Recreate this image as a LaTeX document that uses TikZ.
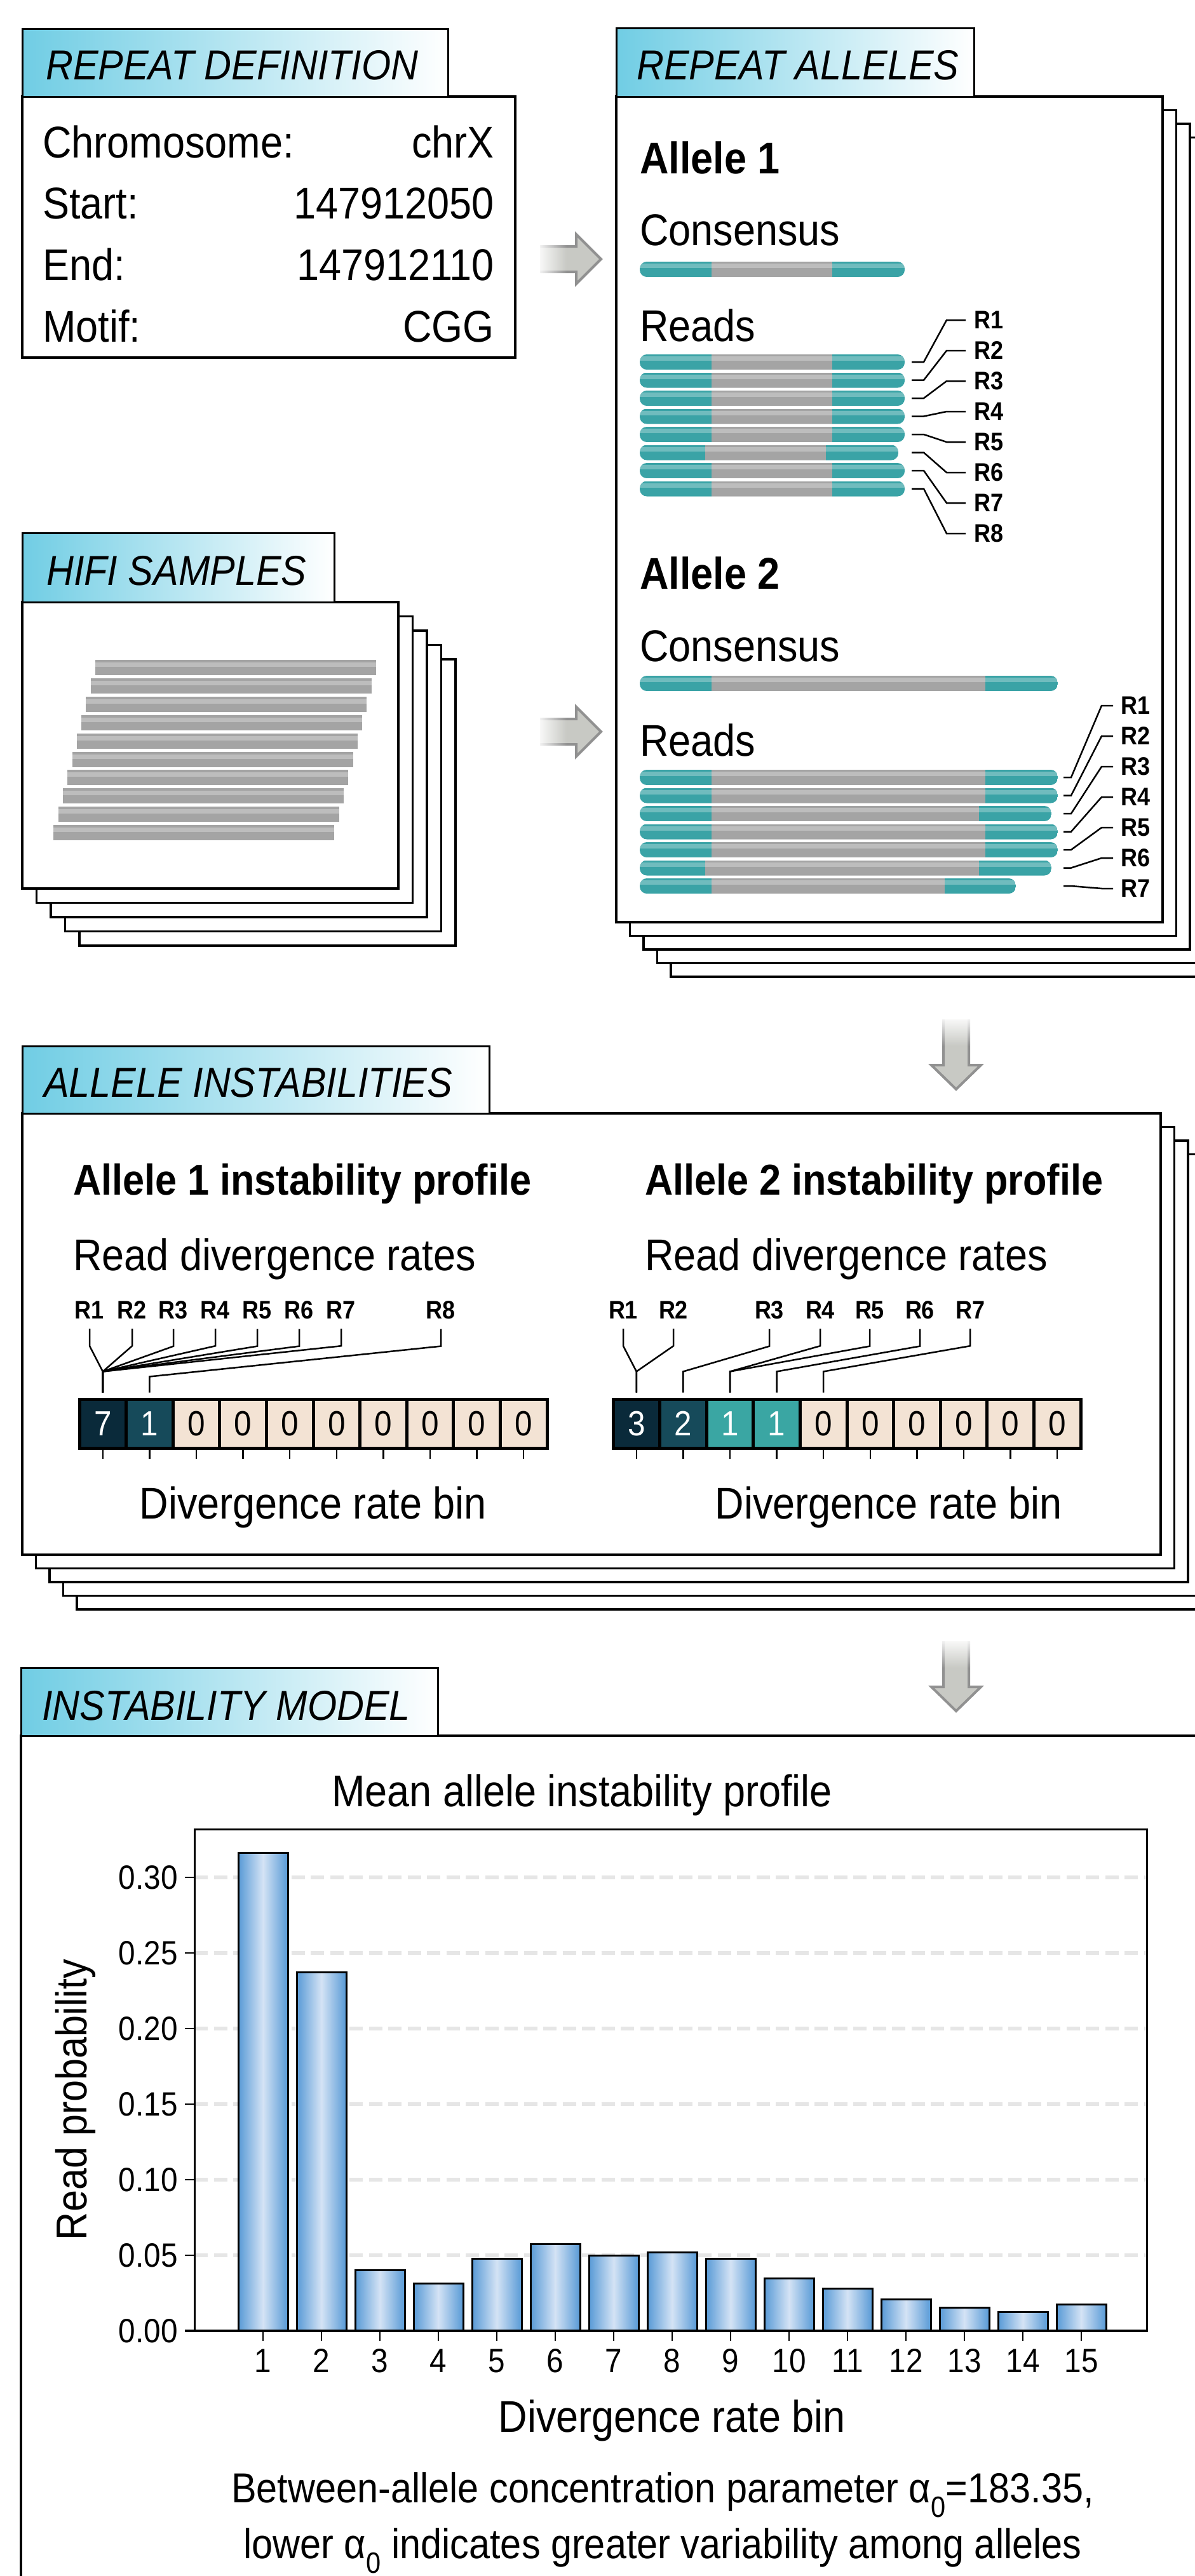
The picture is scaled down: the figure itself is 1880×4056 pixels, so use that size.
\documentclass[tikz,border=0pt]{standalone}
\usepackage{fontspec}
\setmainfont{Liberation Sans}[FakeStretch=0.9]
\usetikzlibrary{calc,fadings}

\definecolor{tabblue}{RGB}{112,205,228}
\definecolor{tabmid}{RGB}{160,223,238}
\definecolor{readteal}{RGB}{58,163,166}
\definecolor{readgrey}{RGB}{164,164,164}
\definecolor{arrowfill}{RGB}{200,201,196}
\definecolor{arrowline}{RGB}{145,145,145}
\definecolor{cellnavy}{RGB}{10,42,58}
\definecolor{celldark}{RGB}{22,74,90}
\definecolor{cellteal}{RGB}{58,166,163}
\definecolor{cellbeige}{RGB}{243,227,212}
\definecolor{barblue}{RGB}{88,154,214}
\definecolor{barlight}{RGB}{212,227,245}
\definecolor{gridgrey}{RGB}{230,230,230}

\tikzfading[name=fadeleft, left color=transparent!0, right color=transparent!100]
\tikzfading[name=fadetop, top color=transparent!0, bottom color=transparent!100]

\newcommand\fsz[1]{\fontsize{#1}{#1}\selectfont}

% one read: centre y, start x, repeat start, repeat end, end x
\newcommand\myreadbar[5]{%
  \begin{scope}
    \clip[rounded corners=11pt] (#2,#1-12) rectangle (#5,#1+12);
    \fill[readteal] (#2,#1-12) rectangle (#3,#1+12);
    \fill[readgrey] (#3,#1-12) rectangle (#4,#1+12);
    \fill[readteal] (#4,#1-12) rectangle (#5,#1+12);
    \fill[white,opacity=0.28] (#2,#1-9) rectangle (#5,#1-2);
  \end{scope}}

% one unaligned HiFi read: top y, left x
\newcommand\myhifibar[2]{%
  \fill[readgrey] (#2,#1) rectangle (#2+442,#1+24);
  \fill[white,opacity=0.28] (#2,#1+4) rectangle (#2+442,#1+11);}

% block arrow pointing right, centre y
\newcommand\myrightarrow[1]{%
  \draw[blockarrow] (850,#1-20) -- (907,#1-20) -- (907,#1-39) -- (946,#1)
     -- (907,#1+39) -- (907,#1+20) -- (850,#1+20);
  \fill[white,path fading=fadeleft] (844,#1-26) rectangle (892,#1+26);}

% block arrow pointing down, shaft top y
\newcommand\mydownarrow[1]{%
  \draw[blockarrow] (1485,#1) -- (1485,#1+72) -- (1466,#1+72) -- (1505,#1+110)
     -- (1544,#1+72) -- (1525,#1+72) -- (1525,#1);
  \fill[white,path fading=fadetop] (1479,#1-6) rectangle (1531,#1+42);}

\begin{document}
\begin{tikzpicture}[x=1pt,y=-1pt,
  sheet/.style={draw=black,fill=white,line width=3.5pt},
  tabbox/.style={draw=black,line width=3pt,left color=tabblue,middle color=tabmid,right color=white},
  tabtitle/.style={anchor=base west,inner sep=0pt,font=\fsz{66}\itshape},
  bodyl/.style={anchor=base west,inner sep=0pt,font=\fsz{70}},
  bodyr/.style={anchor=base east,inner sep=0pt,font=\fsz{70}},
  bodyc/.style={anchor=base,inner sep=0pt,font=\fsz{70}},
  heading/.style={anchor=base west,inner sep=0pt,font=\fsz{70}\bfseries},
  rlab/.style={anchor=west,inner sep=0pt,font=\fsz{40}\bfseries},
  plab/.style={anchor=base,inner sep=0pt,font=\fsz{40}\bfseries},
  leader/.style={draw=black,line width=2.5pt},
  blockarrow/.style={draw=arrowline,fill=arrowfill,line width=4pt,line join=miter},
  binbox/.style={draw=black,line width=5pt,minimum width=73.6pt,minimum height=77pt,inner sep=0pt,font=\fsz{55}},
  axtick/.style={draw=black,line width=2.5pt},
  gridline/.style={draw=gridgrey,line width=6pt,dash pattern=on 21pt off 9.5pt},
  ticklab/.style={inner sep=0pt,font=\fsz{53}}
]
\useasboundingbox (0,0) rectangle (1880,4056);
\fill[white] (0,0) rectangle (1880,4056);

%% ---------------- Repeat definition ----------------
\draw[sheet] (35,152) rectangle (811,563);
\path[tabbox] (35,45) rectangle (705,152);
\node[tabtitle] (tdef) at (72,125) {REPEAT DEFINITION};
\node[bodyl] (kchr) at (67,248) {Chromosome:};
\node[bodyr] (vchr) at (778,248) {chrX};
\node[bodyl] (kstart) at (67,344) {Start:};
\node[bodyr] (vstart) at (778,344) {147912050};
\node[bodyl] (kend) at (67,441) {End:};
\node[bodyr] (vend) at (778,441) {147912110};
\node[bodyl] (kmotif) at (67,538) {Motif:};
\node[bodyr] (vmotif) at (778,538) {CGG};

\myrightarrow{408}

%% ---------------- HiFi samples ----------------
\foreach \k in {4,3,2,1} {
  \draw[sheet] (35+22.5*\k,948+22.5*\k) rectangle (627+22.5*\k,1399+22.5*\k);
}
\draw[sheet] (35,948) rectangle (627,1399);
\path[tabbox] (35,839) rectangle (526,948);
\node[tabtitle] (thifi) at (73,921) {HIFI SAMPLES};
\foreach \i in {0,...,9} {
  \myhifibar{1039+28.9*\i}{150-7.3*\i}
}

\myrightarrow{1152}

%% ---------------- Repeat alleles ----------------
\foreach \k in {4,3,2,1} {
  \draw[sheet] (970+21.5*\k,152+21.5*\k) rectangle (1830+21.5*\k,1452+21.5*\k);
}
\draw[sheet] (970,152) rectangle (1830,1452);
\path[tabbox] (970,44) rectangle (1533,152);
\node[tabtitle] (talleles) at (1002,125) {REPEAT ALLELES};

% allele 1
\node[heading] (a1head) at (1007,273) {Allele 1};
\node[bodyl] (a1cons) at (1007,386) {Consensus};
\myreadbar{424}{1007}{1120}{1310}{1424}
\node[bodyl] (a1reads) at (1007,537) {Reads};
\foreach \i in {1,...,8} {
  \pgfmathsetmacro\ry{570+28.5*(\i-1)}
  \ifnum\i=6
    \myreadbar{\ry}{1007}{1110}{1300}{1414}
  \else
    \myreadbar{\ry}{1007}{1120}{1310}{1424}
  \fi
  \pgfmathsetmacro\ly{504+48*(\i-1)}
  \coordinate (a1e\i) at (1435,\ry);
  \node[rlab] (a1r\i) at (1533,\ly) {R\i};
  \draw[leader] (a1e\i) -- ++(19,0) -- ($(a1r\i.west)+(-43,0)$) -- ($(a1r\i.west)+(-13,0)$);
}

% allele 2
\node[heading] (a2head) at (1007,927) {Allele 2};
\node[bodyl] (a2cons) at (1007,1041) {Consensus};
\myreadbar{1076}{1007}{1120}{1551}{1665}
\node[bodyl] (a2reads) at (1007,1190) {Reads};
\foreach \gs/\ge/\xe [count=\i] in {1120/1551/1665,1120/1551/1665,1120/1541/1655,
    1120/1551/1665,1120/1551/1665,1110/1541/1655,1120/1487/1599} {
  \pgfmathsetmacro\ry{1224+28.5*(\i-1)}
  \myreadbar{\ry}{1007}{\gs}{\ge}{\xe}
  \pgfmathsetmacro\ly{1111+48*(\i-1)}
  \coordinate (a2e\i) at (1674,\ry);
  \node[rlab] (a2r\i) at (1764,\ly) {R\i};
  \draw[leader] (a2e\i) -- ++(12,0) -- ($(a2r\i.west)+(-30,0)$) -- ($(a2r\i.west)+(-12,0)$);
}

\mydownarrow{1605}

%% ---------------- Allele instabilities ----------------
\foreach \k in {4,3,2,1} {
  \draw[sheet] (35+21.5*\k,1753+21.5*\k) rectangle (1827+21.5*\k,2448+21.5*\k);
}
\draw[sheet] (35,1753) rectangle (1827,2448);
\path[tabbox] (35,1647) rectangle (770,1753);
\node[tabtitle] (tinst) at (69,1727) {ALLELE INSTABILITIES};

% profile of allele 1
\node[heading,font=\fsz{68}\bfseries] (p1head) at (115,1881) {Allele 1 instability profile};
\node[bodyl] (p1sub) at (115,2000) {Read divergence rates};
\foreach \t/\fc/\tc [count=\i] in {7/cellnavy/white,1/celldark/white,0/cellbeige/black,
    0/cellbeige/black,0/cellbeige/black,0/cellbeige/black,0/cellbeige/black,
    0/cellbeige/black,0/cellbeige/black,0/cellbeige/black} {
  \draw[axtick] ({125+73.6*(\i-0.5)},2282) -- ++(0,15);
  \node[binbox,fill=\fc,text=\tc] (p1c\i) at ({125+73.6*(\i-0.5)},2241.5) {\t};
}
\foreach \x/\c [count=\i] in {141/1,208/1,273/1,339/1,405/1,471/1,537/1} {
  \node[plab] (p1r\i) at (\x,2076) {R\i};
  \draw[leader] ($(p1r\i.south)+(0,16)$) -- ++(0,27) -- ($(p1c\c.north)+(0,-41)$) -- ($(p1c\c.north)+(0,-8)$);
}
\node[plab] (p1r8) at (694,2076) {R8};
\draw[leader] ($(p1r8.south)+(0,16)$) -- ++(0,27) -- ($(p1c2.north)+(0,-33)$) -- ($(p1c2.north)+(0,-8)$);
\node[bodyc] (p1axis) at (493,2391) {Divergence rate bin};

% profile of allele 2
\node[heading,font=\fsz{68}\bfseries] (p2head) at (1015,1881) {Allele 2 instability profile};
\node[bodyl] (p2sub) at (1015,2000) {Read divergence rates};
\foreach \t/\fc/\tc [count=\i] in {3/cellnavy/white,2/celldark/white,1/cellteal/white,
    1/cellteal/white,0/cellbeige/black,0/cellbeige/black,0/cellbeige/black,
    0/cellbeige/black,0/cellbeige/black,0/cellbeige/black} {
  \draw[axtick] ({965+73.6*(\i-0.5)},2282) -- ++(0,15);
  \node[binbox,fill=\fc,text=\tc] (p2c\i) at ({965+73.6*(\i-0.5)},2241.5) {\t};
}
\foreach \x/\c [count=\i] in {981/1,1060/1,1211/2,1291/3,1369/3,1448/4,1527/5} {
  \node[plab] (p2r\i) at (\x,2076) {R\i};
  \draw[leader] ($(p2r\i.south)+(0,16)$) -- ++(0,27) -- ($(p2c\c.north)+(0,-41)$) -- ($(p2c\c.north)+(0,-8)$);
}
\node[bodyc] (p2axis) at (1399,2391) {Divergence rate bin};

\mydownarrow{2584}

%% ---------------- Instability model ----------------
\draw[sheet] (33,2733) rectangle (1910,4090);
\path[tabbox] (33,2626) rectangle (689,2733);
\node[tabtitle] (tmodel) at (66,2708) {INSTABILITY MODEL};

\node[bodyc] (ctitle) at (916,2844) {Mean allele instability profile};

% grid and frame
\foreach \k in {1,...,6} {
  \draw[gridline] (306,{3670-119*\k}) -- (1805,{3670-119*\k});
}
\draw[line width=3pt] (306,3670) -- (306,2880) -- (1805,2880) -- (1805,3670);
\foreach \lab [count=\k from 0] in {0.00,0.05,0.10,0.15,0.20,0.25,0.30} {
  \draw[axtick] (291,{3670-119*\k}) -- (306,{3670-119*\k});
  \node[ticklab,anchor=east] (yt\k) at (280,{3670-119*\k}) {\lab};
}

% bars
\foreach \v [count=\i] in {0.316,0.237,0.040,0.0315,0.0475,0.0575,0.0496,0.052,
    0.0475,0.0345,0.028,0.021,0.0155,0.0126,0.0176} {
  \pgfmathsetmacro\cx{414+92*(\i-1)}
  \pgfmathsetmacro\ty{3670-2380*\v}
  \shade[left color=barblue,right color=barblue,middle color=barlight]
    (\cx-39,\ty) rectangle (\cx+39,3670);
  \draw[line width=3pt] (\cx-39,3670) -- (\cx-39,\ty) -- (\cx+39,\ty) -- (\cx+39,3670);
  \draw[axtick] (\cx,3672) -- (\cx,3686);
  \node[ticklab,anchor=base] (xt\i) at (\cx,3735) {\i};
}
\draw[line width=4.5pt] (291,3670) -- (1807,3670);

\node[rotate=90,anchor=base,inner sep=0pt,font=\fsz{68}] (ylab) at (136,3306) {Read probability};
\node[bodyc] (xlab) at (1058,3829) {Divergence rate bin};
\node[bodyc,font=\fsz{66}] (cap1) at (1043,3940) {Between-allele concentration parameter α\textsubscript{0}=183.35,};
\node[bodyc,font=\fsz{66}] (cap2) at (1043,4028) {lower α\textsubscript{0} indicates greater variability among alleles};
\end{tikzpicture}
\end{document}
